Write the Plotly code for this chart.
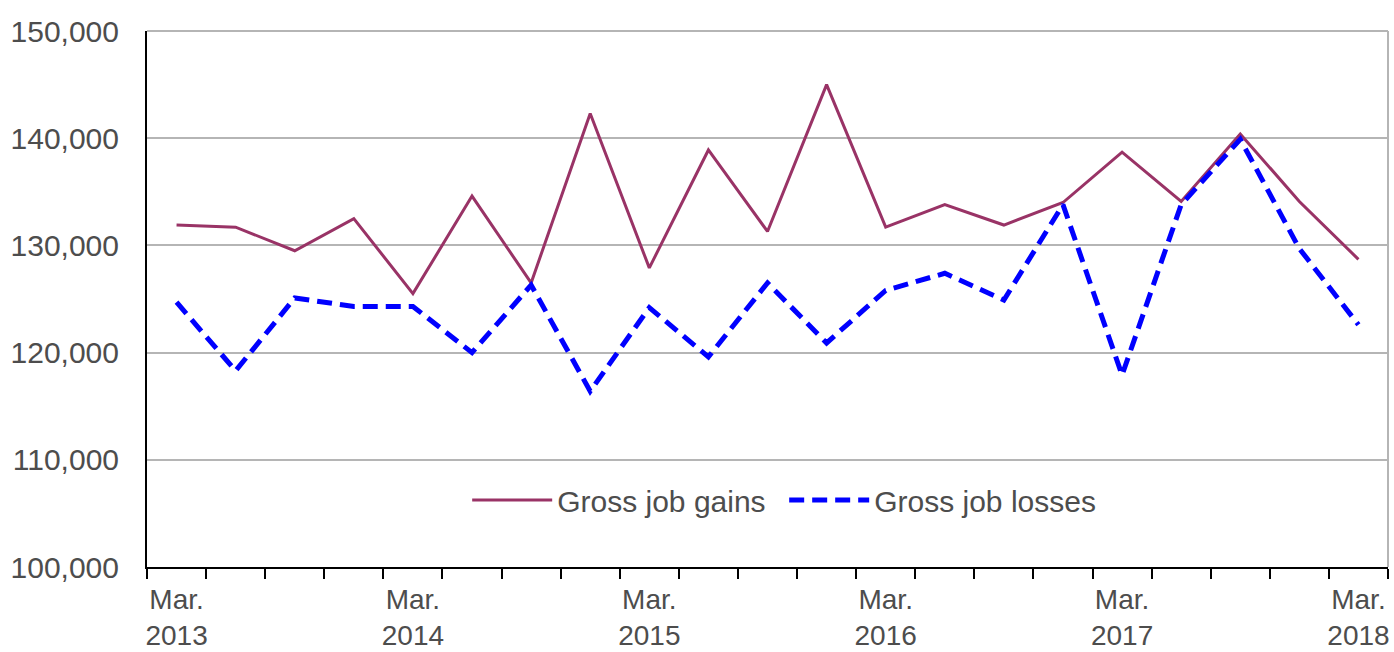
import plotly.graph_objects as go

# Quarterly periods, March 2013 through March 2018
quarters = [
    "Mar. 2013", "Jun. 2013", "Sep. 2013", "Dec. 2013",
    "Mar. 2014", "Jun. 2014", "Sep. 2014", "Dec. 2014",
    "Mar. 2015", "Jun. 2015", "Sep. 2015", "Dec. 2015",
    "Mar. 2016", "Jun. 2016", "Sep. 2016", "Dec. 2016",
    "Mar. 2017", "Jun. 2017", "Sep. 2017", "Dec. 2017",
    "Mar. 2018",
]

gross_job_gains = [
    131900, 131700, 129500, 132500, 125500, 134600, 126500, 142300,
    127900, 138900, 131300, 145000, 131700, 133800, 131900, 134000,
    138700, 134100, 140400, 134100, 128700,
]

gross_job_losses = [
    124700, 118300, 125100, 124300, 124300, 120000, 126300, 116400,
    124200, 119600, 126500, 120900, 125800, 127400, 124900, 133800,
    117900, 133800, 139900, 129700, 122600,
]

# Only the March quarters carry a label on the axis
tick_text = [q.replace(" ", "<br>") if q.startswith("Mar.") else "" for q in quarters]

text_color = "#4d4d4d"
font_family = "Liberation Sans, Arial, sans-serif"
grid_color = "#b5b5b5"

fig = go.Figure()
fig.add_trace(go.Scatter(
    x=quarters, y=gross_job_gains, mode="lines", name="Gross job gains",
    line=dict(color="#993366", width=3),
))
fig.add_trace(go.Scatter(
    x=quarters, y=gross_job_losses, mode="lines", name="Gross job losses",
    line=dict(color="#0000ff", width=5, dash="15px,8px"),
))

fig.update_layout(
    width=1394, height=652,
    margin=dict(l=147, r=6, t=31, b=85, autoexpand=False),
    paper_bgcolor="white", plot_bgcolor="white",
    font=dict(family=font_family, size=30, color=text_color),
    showlegend=True,
    legend=dict(
        orientation="h", x=0.258, xanchor="left", y=0.125, yanchor="middle",
        bgcolor="rgba(0,0,0,0)", font=dict(size=30, color=text_color),
        itemwidth=80, entrywidth=222, entrywidthmode="pixels",
    ),
    xaxis=dict(
        type="category", categoryorder="array", categoryarray=quarters,
        tickmode="array", tickvals=quarters, ticktext=tick_text,
        tickson="boundaries", ticks="outside", ticklen=10, tickwidth=2,
        tickcolor="black", showline=True, linecolor="black", linewidth=2,
        showgrid=False, zeroline=False, tickangle=0, ticklabelstandoff=6,
        tickfont=dict(size=28, color=text_color), automargin=False,
        range=[-0.5, len(quarters) - 0.5],
    ),
    yaxis=dict(
        range=[100000, 150000], dtick=10000, tickformat=",",
        showgrid=True, gridcolor=grid_color, gridwidth=2,
        showline=True, linecolor="black", linewidth=2,
        zeroline=False, ticks="", ticklabelstandoff=20, automargin=False,
        tickfont=dict(size=30, color=text_color),
    ),
    shapes=[
        # right-hand frame edge and top gridline of the plotting area
        dict(type="line", xref="paper", yref="paper", x0=1, x1=1, y0=0, y1=1,
             line=dict(color=grid_color, width=2), layer="below"),
        dict(type="line", xref="paper", yref="paper", x0=0, x1=1, y0=1, y1=1,
             line=dict(color=grid_color, width=2), layer="below"),
    ],
)

fig.write_html("out.html")
